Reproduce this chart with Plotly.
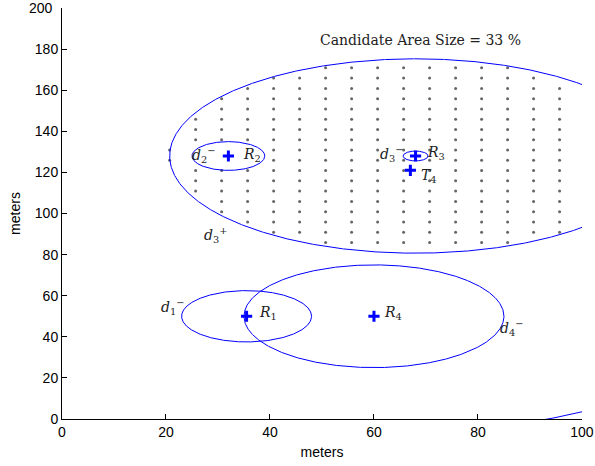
import numpy as np
import plotly.graph_objects as go

# Reference nodes
node_names = ["R1", "R2", "R3", "R4"]
node_x = [35.5, 32, 68, 60]
node_y = [50, 128, 128, 50]

# Target
target_x = [67]
target_y = [121]

# Distance bounds (circles): center, radius
circle_cx = [35.5, 32, 68, 60, 68, 32]
circle_cy = [50, 128, 128, 50, 128, 128]
circle_r = [12.5, 7, 2.4, 25, 47.3, 142]

# Candidate grid: column x, lowest and highest dot row in each column
grid_cols = [20.7, 25.7, 30.7, 35.7, 40.7, 45.7, 50.7, 55.7, 60.7, 65.7,
             70.7, 75.7, 80.7, 85.7, 90.7, 95.7]
col_ymin = [125.9, 110.9, 100.9, 95.9, 90.9, 90.9, 85.9, 85.9, 85.9, 85.9,
            85.9, 85.9, 85.9, 85.9, 90.9, 90.9]
col_ymax = [130.9, 145.9, 155.9, 160.9, 165.9, 165.9, 170.9, 170.9, 170.9, 170.9,
            170.9, 170.9, 170.9, 170.9, 165.9, 160.9]
row_step = 5

fig = go.Figure()

# candidate dots, excluding those within the d2- bound of R2
dx, dy = [], []
for gx, y0, y1 in zip(grid_cols, col_ymin, col_ymax):
    for gy in np.arange(y0, y1 + 0.01, row_step):
        if (gx - circle_cx[1]) ** 2 + (gy - circle_cy[1]) ** 2 > circle_r[1] ** 2:
            dx.append(gx)
            dy.append(float(gy))
fig.add_trace(go.Scatter(x=dx, y=dy, mode="markers",
                         marker=dict(size=3, color="#666666"),
                         hoverinfo="skip", showlegend=False))

t = np.linspace(0, 2 * np.pi, 1441)
for cx, cy, r in zip(circle_cx, circle_cy, circle_r):
    fig.add_trace(go.Scatter(x=cx + r * np.cos(t), y=cy + r * np.sin(t),
                             mode="lines", line=dict(color="#0000ff", width=1),
                             hoverinfo="skip", showlegend=False))

fig.add_trace(go.Scatter(x=node_x + target_x, y=node_y + target_y, mode="markers",
                         marker=dict(symbol="cross-thin", size=8,
                                     line=dict(color="#0000ff", width=3)),
                         showlegend=False))

labels = [
    ("<i>R</i><sub>1</sub>", 39.6, 51.6),
    ("<i>R</i><sub>2</sub>", 36.5, 128.6),
    ("<i>R</i><sub>3</sub>", 72.0, 129.3),
    ("<i>R</i><sub>4</sub>", 63.7, 51.4),
    ("<i>T</i><sub>4</sub>", 70.5, 118.5),
    ("<i>d</i><sub>1</sub><sup>−</sup>", 21.3, 54.3),
    ("<i>d</i><sub>2</sub><sup>−</sup>", 27.2, 128.3),
    ("<i>d</i><sub>3</sub><sup>−</sup>", 63.3, 129.2),
    ("<i>d</i><sub>4</sub><sup>−</sup>", 86.5, 44.2),
    ("<i>d</i><sub>3</sub><sup>+</sup>", 29.5, 89.5),
]
for txt, x, y in labels:
    fig.add_annotation(x=x, y=y, text=txt, showarrow=False,
                       font=dict(family="DejaVu Serif", size=14, color="#222222"))

fig.add_annotation(x=69, y=184.5, text="Candidate Area Size = 33 %", showarrow=False,
                   font=dict(family="DejaVu Serif", size=14, color="#222222"))

y_ticks = [0, 20, 40, 60, 80, 100, 120, 140, 160, 180, 200]
y_ticktext = [str(v) for v in y_ticks[:-1]] + [""]
# top tick label placed as annotation so it is not dropped at the figure edge
fig.add_annotation(xref="paper", x=0, y=y_ticks[-1], yref="y", text=str(y_ticks[-1]),
                   showarrow=False, xanchor="right", xshift=-7,
                   font=dict(family="Liberation Sans", size=14, color="black"))

axis_common = dict(showgrid=False, zeroline=False, showline=True, linecolor="black",
                   linewidth=1, ticks="inside", ticklen=5, tickcolor="black",
                   tickfont=dict(family="Liberation Sans", size=14, color="black"),
                   mirror=False, automargin=False)
fig.update_xaxes(range=[0, 100.01], tickvals=[0, 20, 40, 60, 80, 100],
                 title=dict(text="meters", standoff=8,
                            font=dict(family="Liberation Sans", size=14, color="black")),
                 **axis_common)
fig.update_yaxes(range=[0, 200.02], tickvals=y_ticks, ticktext=y_ticktext,
                 title=dict(text="meters", standoff=10,
                            font=dict(family="Liberation Sans", size=14, color="black")),
                 **axis_common)
fig.update_layout(width=595, height=466, margin=dict(l=62, r=13, t=8, b=47),
                  plot_bgcolor="white", paper_bgcolor="white")
fig.write_html("out.html")
